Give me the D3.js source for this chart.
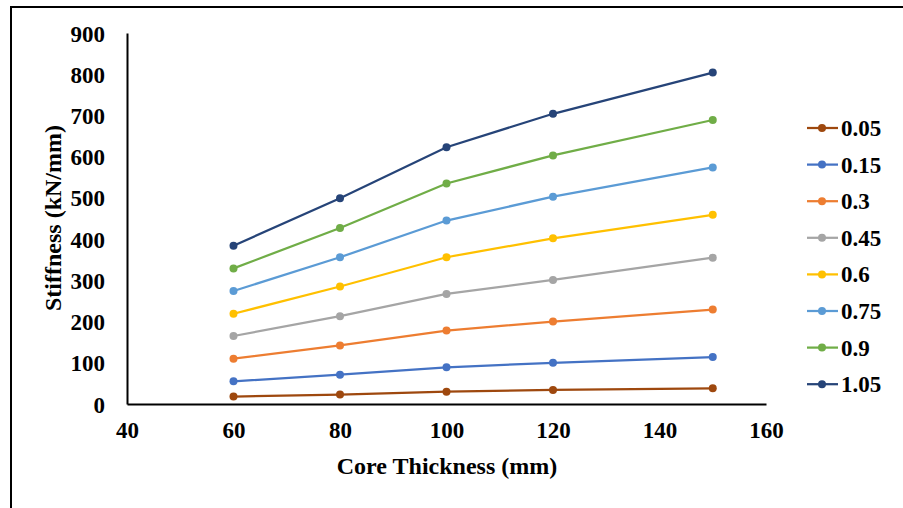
<!DOCTYPE html>
<html>
<head>
<meta charset="utf-8">
<script src="https://cdn.jsdelivr.net/npm/d3@7"></script>
<style>
  body { margin: 0; background: #fff; }
  text { font-family: "Liberation Serif", "Times New Roman", serif; font-weight: bold; fill: #000; }
</style>
</head>
<body>
<svg width="903" height="508"></svg>
<script>
// core thickness (mm)
const thickness = [60, 80, 100, 120, 150];
const seriesNames = ["0.05", "0.15", "0.3", "0.45", "0.6", "0.75", "0.9", "1.05"];
const s005 = [18, 23, 30, 34, 38];
const s015 = [55, 71, 89, 100, 114];
const s03  = [110, 142, 178, 200, 229];
const s045 = [165, 213, 267, 301, 355];
const s06  = [219, 285, 356, 402, 459];
const s075 = [274, 356, 445, 503, 574];
const s09  = [329, 427, 535, 603, 689];
const s105 = [384, 499, 623, 704, 804];
const colors = ["#9e480e", "#4472c4", "#ed7d31", "#a5a5a5", "#ffc000", "#5b9bd5", "#70ad47", "#264478"];
const xTicks = [40, 60, 80, 100, 120, 140, 160];
const yTicks = [0, 100, 200, 300, 400, 500, 600, 700, 800, 900];

const series = [s005, s015, s03, s045, s06, s075, s09, s105].map((vals, i) => ({
  name: seriesNames[i],
  color: colors[i],
  values: vals.map((v, j) => ({x: thickness[j], y: v}))
}));

const svg = d3.select("svg");

// outer frame (only top and left edges show)
svg.append("line").attr("x1", 11).attr("x2", 903).attr("y1", 7).attr("y2", 7)
  .attr("stroke", "#000").attr("stroke-width", 2);
svg.append("line").attr("x1", 11).attr("x2", 11).attr("y1", 6).attr("y2", 508)
  .attr("stroke", "#000").attr("stroke-width", 2);

const margin = {left: 127, top: 33, right: 766, bottom: 404};

const x = d3.scaleLinear().domain([40, 160]).range([margin.left, margin.right]);
const y = d3.scaleLinear().domain([0, 900]).range([margin.bottom, margin.top]);

// axes
const xAxis = svg.append("g").attr("transform", `translate(0,${margin.bottom})`)
  .call(d3.axisBottom(x).tickValues(xTicks).tickSize(0).tickPadding(20));
const yAxis = svg.append("g").attr("transform", `translate(${margin.left},0)`)
  .call(d3.axisLeft(y).tickValues(yTicks).tickSize(0).tickPadding(22));
[xAxis, yAxis].forEach(a => {
  a.select(".domain").attr("stroke", "#000").attr("stroke-width", 2);
  a.selectAll("text").style("font-family", '"Liberation Serif", serif')
    .style("font-weight", "bold").style("font-size", "23px").attr("fill", "#000");
});
yAxis.selectAll("text").attr("dy", "0.35em");
xAxis.selectAll("text").attr("dy", "0.6em");

svg.append("text").attr("x", 447).attr("y", 474).attr("text-anchor", "middle")
  .style("font-size", "24px").text("Core Thickness (mm)");
svg.append("text").attr("transform", "translate(61,218) rotate(-90)").attr("text-anchor", "middle")
  .style("font-size", "24px").text("Stiffness (kN/mm)");

const line = d3.line().x(d => x(d.x)).y(d => y(d.y));

const g = svg.append("g");
series.forEach(s => {
  g.append("path").datum(s.values).attr("d", line)
    .attr("fill", "none").attr("stroke", s.color).attr("stroke-width", 2.25);
  g.selectAll(null).data(s.values).join("circle")
    .attr("cx", d => x(d.x)).attr("cy", d => y(d.y)).attr("r", 4)
    .attr("fill", s.color);
});

// legend
const legend = svg.append("g");
series.forEach((s, i) => {
  const ly = 128 + i * 36.6;
  legend.append("line").attr("x1", 807).attr("x2", 838).attr("y1", ly).attr("y2", ly)
    .attr("stroke", s.color).attr("stroke-width", 2.25);
  legend.append("circle").attr("cx", 822).attr("cy", ly).attr("r", 4).attr("fill", s.color);
  legend.append("text").attr("x", 841).attr("y", ly).attr("dy", "0.35em")
    .style("font-size", "23px").text(s.name);
});
</script>
</body>
</html>
